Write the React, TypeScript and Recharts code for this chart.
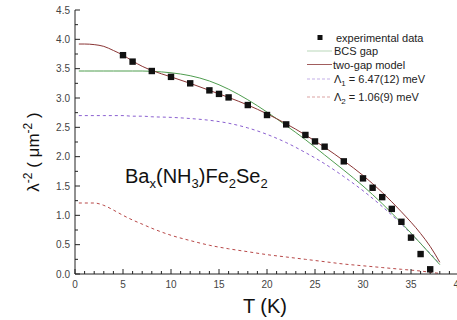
import React from 'react';
import { ComposedChart, Line, Scatter, XAxis, YAxis } from 'recharts';

const FONT = '"Liberation Sans", Arial, sans-serif';

// measured points
const expT = [5, 6, 8, 10, 12, 14, 15, 16, 18, 20, 22, 24, 25, 26, 28, 30, 31, 32, 33, 34, 35, 36, 37];
const expLambda = [3.73, 3.62, 3.46, 3.36, 3.25, 3.13, 3.07, 3.01, 2.88, 2.71, 2.55, 2.37, 2.26, 2.17, 1.92, 1.63, 1.47, 1.31, 1.11, 0.89, 0.62, 0.34, 0.08];

// fitted curves
const fitT = [0.4, 1, 2, 3, 4, 5, 6, 7, 8, 10, 12, 14, 16, 18, 20, 22, 24, 26, 28, 30, 32, 34, 36, 37, 38];
const bcsGap = [3.46, 3.46, 3.46, 3.46, 3.46, 3.46, 3.46, 3.46, 3.455, 3.43, 3.38, 3.29, 3.15, 2.97, 2.76, 2.53, 2.29, 2.03, 1.77, 1.5, 1.2, 0.87, 0.52, 0.34, 0.16];
const twoGap = [3.92, 3.92, 3.91, 3.88, 3.81, 3.73, 3.63, 3.54, 3.47, 3.36, 3.25, 3.13, 3.01, 2.88, 2.73, 2.56, 2.37, 2.16, 1.93, 1.68, 1.39, 1.06, 0.69, 0.47, 0.2];
const gap1 = [2.7, 2.7, 2.7, 2.7, 2.7, 2.7, 2.69, 2.69, 2.68, 2.67, 2.65, 2.62, 2.57, 2.49, 2.38, 2.24, 2.07, 1.88, 1.66, 1.42, 1.15, 0.85, 0.52, 0.35, 0.17];
const gap2 = [1.21, 1.21, 1.21, 1.17, 1.09, 1.0, 0.92, 0.85, 0.78, 0.66, 0.57, 0.49, 0.43, 0.38, 0.33, 0.29, 0.25, 0.21, 0.17, 0.14, 0.11, 0.08, 0.05, 0.03, 0.01];

const xMajor = [0, 5, 10, 15, 20, 25, 30, 35, 40];
const yMajor = [0, 0.5, 1, 1.5, 2, 2.5, 3, 3.5, 4, 4.5];
const xTicks = Array.from({ length: 41 }, (_, i) => i);
const yTicks = Array.from({ length: 19 }, (_, i) => i * 0.25);

const expData = expT.map((T, i) => ({ T, lambda: expLambda[i] }));
const fitData = fitT.map((T, i) => ({ T, bcs: bcsGap[i], two: twoGap[i], g1: gap1[i], g2: gap2[i] }));

const GREEN = '#4f9d4f';
const BROWN = '#8a3535';
const PURPLE = '#8a5fd0';
const RED = '#b84848';
const AXIS = '#222';

const isMajorX = (v: number) => xMajor.includes(v);
const isMajorY = (v: number) => yMajor.some((m) => Math.abs(m - v) < 1e-6);

function BottomTick({ x, y, payload }: any) {
  const major = isMajorX(payload.value);
  return (
    <g>
      <line x1={x} x2={x} y1={y} y2={y - (major ? 5 : 3)} stroke={AXIS} />
      {major && (
        <text x={x} y={y + 14} textAnchor="middle" fontSize={10} fill="#444" fontFamily={FONT}>
          {payload.value}
        </text>
      )}
    </g>
  );
}

function TopTick({ x, y, payload }: any) {
  const major = isMajorX(payload.value);
  return <line x1={x} x2={x} y1={y} y2={y + (major ? 5 : 3)} stroke={AXIS} />;
}

function LeftTick({ x, y, payload }: any) {
  const major = isMajorY(payload.value);
  return (
    <g>
      <line x1={x} x2={x + (major ? 5 : 3)} y1={y} y2={y} stroke={AXIS} />
      {major && (
        <text x={x - 5} y={y + 3.6} textAnchor="end" fontSize={10} fill="#444" fontFamily={FONT}>
          {payload.value.toFixed(1)}
        </text>
      )}
    </g>
  );
}

function RightTick({ x, y, payload }: any) {
  const major = isMajorY(payload.value);
  return <line x1={x} x2={x - (major ? 11 : 8)} y1={y} y2={y} stroke={AXIS} />;
}

const Square = (p: any) => <rect x={p.cx - 3.2} y={p.cy - 3.2} width={6.4} height={6.4} fill="#111" />;

function Overlay() {
  return (
    <svg width={457} height={320} style={{ position: 'absolute', left: 0, top: 0, pointerEvents: 'none' }} fontFamily={FONT}>
      {/* legend */}
      <rect x={317.5} y={35} width={5} height={5} fill="#111" />
      <text x={336} y={41.5} fontSize={11} fill="#222">experimental data</text>
      <line x1={307} x2={332} y1={51} y2={51} stroke={GREEN} strokeOpacity={0.4} />
      <text x={334} y={55} fontSize={11} fill="#222">BCS gap</text>
      <line x1={307} x2={332} y1={64.5} y2={64.5} stroke={BROWN} strokeOpacity={0.8} />
      <text x={333} y={68.5} fontSize={11} fill="#222">two-gap model</text>
      <line x1={307} x2={332} y1={79} y2={79} stroke={PURPLE} strokeOpacity={0.5} strokeDasharray="3 2" />
      <text x={334} y={82.5} fontSize={11} fill="#222">
        Λ<tspan fontSize={8} dy={3}>1</tspan><tspan dy={-3}> = 6.47(12) meV</tspan>
      </text>
      <line x1={307} x2={332} y1={97} y2={97} stroke={RED} strokeOpacity={0.5} strokeDasharray="3 2" />
      <text x={334} y={100.5} fontSize={11} fill="#222">
        Λ<tspan fontSize={8} dy={3}>2</tspan><tspan dy={-3}> = 1.06(9) meV</tspan>
      </text>

      {/* compound label */}
      <text x={125} y={183} fontSize={20} fill="#111">
        Ba<tspan fontSize={13} dy={5}>x</tspan>
        <tspan dy={-5}>(NH</tspan><tspan fontSize={13} dy={5}>3</tspan>
        <tspan dy={-5}>)Fe</tspan><tspan fontSize={13} dy={5}>2</tspan>
        <tspan dy={-5}>Se</tspan><tspan fontSize={13} dy={5}>2</tspan>
      </text>

      {/* axis titles */}
      <text x={265} y={313} fontSize={20} textAnchor="middle" fill="#111">T (K)</text>
      <text x={39} y={152} fontSize={17} textAnchor="middle" fill="#111" transform="rotate(-90 39 152)">
        λ<tspan fontSize={12} dy={-7}>-2</tspan><tspan dy={7}> ( μm</tspan><tspan fontSize={12} dy={-7}>-2</tspan><tspan dy={7}> )</tspan>
      </text>
    </svg>
  );
}

export default function App() {
  return (
    <div style={{ position: 'fixed', left: 0, top: 0, width: 457, height: 320, overflow: 'hidden', background: '#fff' }}>
      <ComposedChart width={470} height={320} data={fitData} margin={{ top: 10, right: 11, bottom: 0, left: 0 }}>
        <XAxis
          dataKey="T"
          type="number"
          domain={[0, 40]}
          ticks={xTicks}
          interval={0}
          height={46}
          tickSize={0}
          tickMargin={0}
          tickLine={false}
          axisLine={{ stroke: AXIS }}
          tick={<BottomTick />}
        />
        <XAxis
          xAxisId="top"
          orientation="top"
          dataKey="T"
          type="number"
          domain={[0, 40]}
          ticks={xTicks}
          interval={0}
          height={0}
          tickSize={0}
          tickMargin={0}
          tickLine={false}
          axisLine={{ stroke: AXIS }}
          tick={<TopTick />}
        />
        <YAxis
          type="number"
          domain={[0, 4.5]}
          ticks={yTicks}
          interval={0}
          width={75}
          tickSize={0}
          tickMargin={0}
          tickLine={false}
          axisLine={{ stroke: AXIS }}
          tick={<LeftTick />}
        />
        <YAxis
          yAxisId="right"
          orientation="right"
          type="number"
          domain={[0, 4.5]}
          ticks={yTicks}
          interval={0}
          width={0}
          tickSize={0}
          tickMargin={0}
          tickLine={false}
          axisLine={{ stroke: AXIS }}
          tick={<RightTick />}
        />
        <Line dataKey="g1" type="monotone" stroke={PURPLE} strokeWidth={1} strokeDasharray="3 3" dot={false} isAnimationActive={false} />
        <Line dataKey="g2" type="monotone" stroke={RED} strokeWidth={1} strokeDasharray="3 3" dot={false} isAnimationActive={false} />
        <Line dataKey="bcs" type="monotone" stroke={GREEN} strokeWidth={1} dot={false} isAnimationActive={false} />
        <Line dataKey="two" type="monotone" stroke={BROWN} strokeWidth={1} dot={false} isAnimationActive={false} />
        <Scatter data={expData} dataKey="lambda" shape={Square} isAnimationActive={false} />
      </ComposedChart>
      <Overlay />
    </div>
  );
}
